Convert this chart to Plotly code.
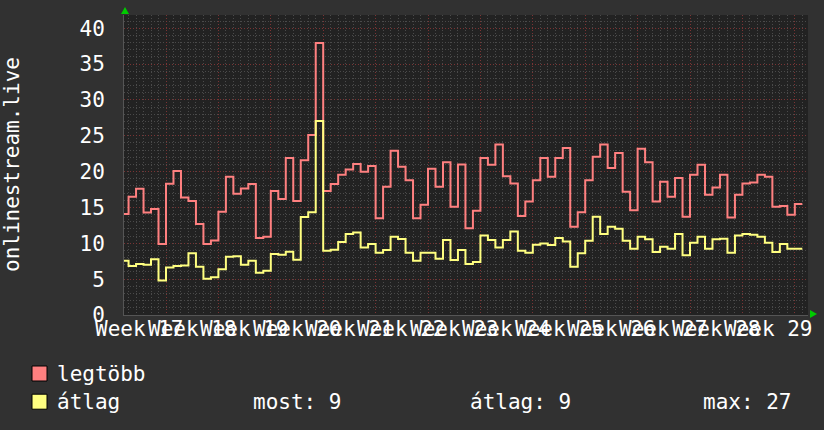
import numpy as np
import plotly.graph_objects as go

# Daily values, day index relative to start of Week 17 (Monday = 0)
first_day = -6
legtobb = [14.1, 16.5, 17.6, 14.3, 14.8, 9.9,
           18.3, 20.1, 16.4, 15.9, 12.7, 9.9, 10.4,
           14.4, 19.3, 16.9, 17.65, 18.26, 10.73, 10.9,
           17.3, 16.17, 21.9, 15.9, 21.6, 25.1, 37.96,
           17.3, 18.26, 19.55, 20.3, 21.05, 20.0, 20.77,
           13.5, 17.9, 22.9, 20.67, 18.8, 13.5, 15.37,
           20.4, 17.9, 21.3, 15.1, 21.0, 12.1, 14.54,
           21.9, 20.95, 23.8, 19.37, 18.35, 13.8, 15.85,
           18.8, 21.9, 19.3, 21.9, 23.3, 12.3, 14.35,
           18.8, 22.07, 23.8, 20.5, 22.6, 17.2, 14.6,
           23.2, 21.3, 15.85, 18.6, 16.5, 19.1, 13.7,
           19.55, 20.95, 16.77, 17.8, 19.55, 13.6, 16.77,
           18.35, 18.5, 19.55, 19.3, 15.1, 15.2, 13.98, 15.47]
atlag = [7.57, 6.83, 7.1, 7.0, 7.76, 4.8,
         6.64, 6.83, 6.9, 8.6, 6.74, 5.06, 5.25,
         6.37, 8.13, 8.2, 7.0, 7.57, 5.9, 6.18,
         8.5, 8.4, 8.83, 7.7, 13.66, 14.35, 27.08,
         8.96, 9.1, 10.2, 11.29, 11.5, 9.43, 9.9,
         8.69, 9.06, 10.9, 10.6, 8.69, 7.57, 8.69,
         8.69, 7.85, 10.45, 7.67, 9.06, 7.1, 7.4,
         11.1, 10.45, 9.43, 10.45, 11.66, 8.96, 8.69,
         9.8, 9.99, 9.76, 10.73, 10.27, 6.74, 8.6,
         10.36, 13.7, 11.29, 12.3, 12.03, 10.36, 9.24,
         10.9, 10.55, 8.78, 9.52, 9.24, 11.29, 8.32,
         10.08, 10.9, 9.24, 10.55, 10.64, 8.69, 11.1,
         11.29, 11.2, 10.9, 10.08, 8.78, 9.9, 9.24, 9.24]
week_numbers = [17, 18, 19, 20, 21, 22, 23, 24, 25, 26, 27, 28, 29]
series_names = ["legtöbb", "átlag"]
series_colors = ["#ff8080", "#ffff80"]
stats_labels = ["most: 9", "átlag: 9", "max: 27"]
y_title = "onlinestream.live"

W, H = 824, 430
ML, MR, MT, MB = 124, 16, 15, 115
PW, PH = W - ML - MR, H - MT - MB
x_range = [-5.61, 85.76]
y_range = [0, 41.85]

def px(xp):
    return (xp - ML) / PW

def py(yp):
    return (H - MB - yp) / PH

fig = go.Figure()
n = len(legtobb)
days = np.arange(first_day, first_day + n + 1)
for name, vals, col in zip(series_names, [legtobb, atlag], series_colors):
    v = list(vals) + [vals[-1]]
    fig.add_trace(go.Scatter(x=days, y=v, mode="lines", name=name,
                             line=dict(color=col, width=2, shape="hv"),
                             showlegend=False, hoverinfo="skip"))

font = dict(family="DejaVu Sans Mono", color="#ffffff", size=21)
annotations = []
for wk in week_numbers:
    annotations.append(dict(x=(wk - 17) * 7 - 3.5, xref="x", y=py(329), yref="paper",
                            text=f"Week {wk}", showarrow=False, xanchor="center",
                            yanchor="middle", font=font))
annotations.append(dict(x=px(12), y=py(165), xref="paper", yref="paper", text=y_title,
                        textangle=-90, showarrow=False, xanchor="center", yanchor="middle",
                        font=font))
# legend
shapes = []
leg_y = [373.5, 401.7]
for name, col, ly in zip(series_names, series_colors, leg_y):
    shapes.append(dict(type="rect", xref="paper", yref="paper",
                       x0=px(32), x1=px(47), y0=py(ly - 7.5), y1=py(ly + 7.5),
                       fillcolor=col, line=dict(color="#000000", width=1)))
    annotations.append(dict(x=px(55), y=py(ly), xref="paper", yref="paper", text=name,
                            showarrow=False, xanchor="left", yanchor="middle", font=font))
for lab, xl in zip(stats_labels, [251, 468, 701]):
    annotations.append(dict(x=px(xl), y=py(leg_y[1]), xref="paper", yref="paper", text=lab,
                            showarrow=False, xanchor="left", yanchor="middle", font=font))
# axis arrows
shapes.append(dict(type="path", xref="paper", yref="paper",
                   path=f"M {px(121)} {py(14)} L {px(129)} {py(14)} L {px(125)} {py(7)} Z",
                   fillcolor="#00cc00", line=dict(width=0)))
shapes.append(dict(type="path", xref="paper", yref="paper",
                   path=f"M {px(810)} {py(310)} L {px(810)} {py(318)} L {px(817)} {py(314)} Z",
                   fillcolor="#00cc00", line=dict(width=0)))

fig.update_layout(
    width=W, height=H, margin=dict(l=ML, r=MR, t=MT, b=MB),
    paper_bgcolor="#313131", plot_bgcolor="#222222",
    font=font, annotations=annotations, shapes=shapes,
    xaxis=dict(range=x_range, tick0=0, dtick=7, showticklabels=False, ticks="",
               showgrid=True, gridcolor="#7a3434", griddash="1px,2px", gridwidth=1,
               zeroline=False, showline=True, linecolor="#555555",
               minor=dict(tick0=0, dtick=1, showgrid=True, gridcolor="#4a4a4a",
                          griddash="1px,2px", gridwidth=1)),
    yaxis=dict(range=y_range, tick0=0, dtick=5, ticks="", ticklabelstandoff=14,
               showgrid=True, gridcolor="#7a3434", griddash="1px,2px", gridwidth=1,
               zeroline=False, showline=True, linecolor="#555555",
               tickfont=font,
               minor=dict(tick0=0, dtick=1, showgrid=True, gridcolor="#4a4a4a",
                          griddash="1px,2px", gridwidth=1)),
)
fig.write_html("out.html")
